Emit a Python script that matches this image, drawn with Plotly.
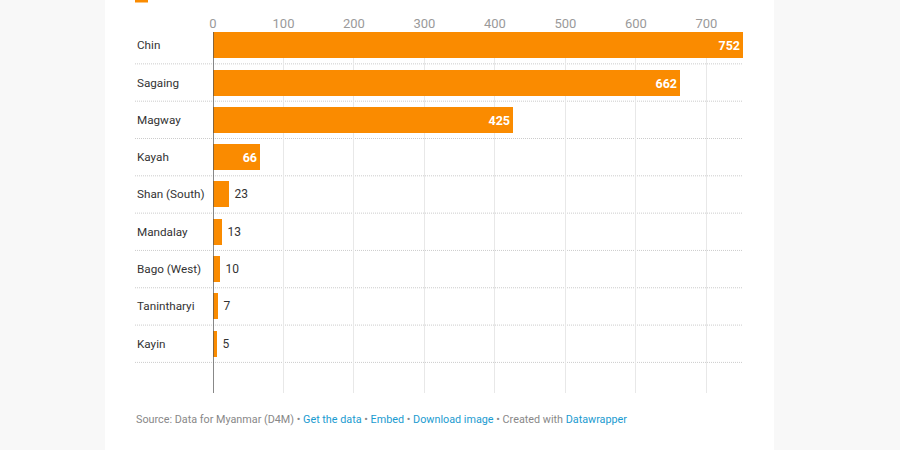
import plotly.graph_objects as go

regions = ["Chin", "Sagaing", "Magway", "Kayah", "Shan (South)", "Mandalay",
           "Bago (West)", "Tanintharyi", "Kayin"]
values = [752, 662, 425, 66, 23, 13, 10, 7, 5]
x_ticks = [0, 100, 200, 300, 400, 500, 600, 700]
inside_min = 50  # labels of bars at least this large sit inside

W, H = 900, 450
L, R, T, B = 213, 900 - 743, 32, 450 - 393
pw, ph = W - L - R, H - T - B

def px_x(p):
    return (p - L) / pw

def px_y(p):
    return 1 - (p - T) / ph

ORANGE = "#fa8b00"
idx = list(range(len(regions)))
positions = ["inside" if v >= inside_min else "outside" for v in values]
labels = [str(v) if v >= inside_min else "\u2009" + str(v) for v in values]

fig = go.Figure()
fig.add_trace(go.Bar(
    x=values, y=idx, orientation="h", width=0.697,
    marker=dict(color=ORANGE, line=dict(width=0)),
    text=labels, textposition=positions,
    insidetextanchor="end",
    insidetextfont=dict(color="white", size=12.5, family="Roboto", weight="bold"),
    outsidetextfont=dict(color="#333333", size=12, family="Roboto"),
    cliponaxis=False, hoverinfo="skip",
))

shapes = [
    # white panel
    dict(type="rect", xref="paper", yref="paper", x0=px_x(105), x1=px_x(774),
         y0=px_y(H + 5), y1=px_y(-5), fillcolor="white", line=dict(width=0), layer="below"),
    # legend swatch (cut off)
    dict(type="rect", xref="paper", yref="paper", x0=px_x(135), x1=px_x(148),
         y0=px_y(2.5), y1=px_y(-12), fillcolor=ORANGE, line=dict(width=0), layer="above"),
]
for i in idx:
    shapes.append(dict(type="line", xref="paper", yref="y", x0=px_x(135), x1=1,
                       y0=i + 0.5, y1=i + 0.5,
                       line=dict(color="#cccccc", width=1, dash="1px,1px"),
                       layer="below"))
shapes.append(dict(type="line", xref="x", yref="paper", x0=0, x1=0, y0=0, y1=1,
                   line=dict(color="#555555", width=1.4), layer="above"))

annotations = []
for i, r in zip(idx, regions):
    annotations.append(dict(xref="paper", yref="y", x=px_x(135), y=i, text=r,
                            xanchor="left", yanchor="middle", showarrow=False,
                            font=dict(family="Roboto", size=11.7, color="#333333")))
link = "#1a9bd0"
footer = ("Source: Data for Myanmar (D4M) • "
          f"<span style='color:{link}'>Get the data</span> • "
          f"<span style='color:{link}'>Embed</span> • "
          f"<span style='color:{link}'>Download image</span> • Created with "
          f"<span style='color:{link}'>Datawrapper</span>")
annotations.append(dict(xref="paper", yref="paper", x=px_x(134), y=px_y(419), text=footer,
                        xanchor="left", yanchor="middle", showarrow=False,
                        font=dict(family="Roboto", size=10.8, color="#888888")))

fig.update_layout(
    width=W, height=H, margin=dict(l=L, r=R, t=T, b=B, pad=0),
    paper_bgcolor="#f8f8f8", plot_bgcolor="rgba(0,0,0,0)",
    showlegend=False, bargap=0,
    font=dict(family="Roboto"),
    xaxis=dict(side="top", range=[0, 752], tickvals=x_ticks,
               ticktext=[str(t) for t in x_ticks], showgrid=True, gridcolor="#e8e8e8",
               gridwidth=1, zeroline=False, showline=False, ticks="",
               tickfont=dict(family="Roboto", size=13, color="#9a9a9a"), fixedrange=True),
    yaxis=dict(range=[9.32, -0.354], showticklabels=False, showgrid=False,
               zeroline=False, showline=False, ticks="", fixedrange=True),
    shapes=shapes, annotations=annotations,
)

fig.write_html("out.html")
